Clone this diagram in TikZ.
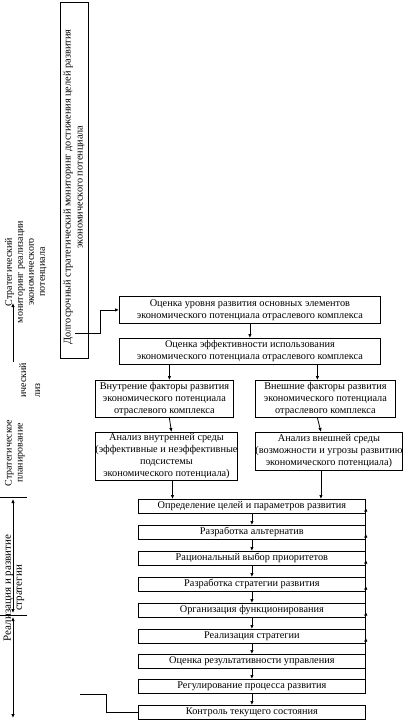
\documentclass[tikz,border=0pt]{standalone}
\usepackage{fontspec}
\setmainfont{Liberation Serif}
\usetikzlibrary{arrows.meta,calc}
\begin{document}
\begin{tikzpicture}[x=1pt,y=-1pt,
  font=\fontsize{10.3}{12}\selectfont,
  box/.style={draw, line width=0.8pt, inner sep=0pt, align=center, anchor=north west},
  arr/.style={-{Latex[length=4pt,width=3.5pt]}, line width=0.8pt},
  darr/.style={{Latex[length=4pt,width=3.5pt]}-{Latex[length=4pt,width=3.5pt]}, line width=0.8pt},
  ln/.style={line width=0.8pt},
  side/.style={rotate=90, align=center, inner sep=0pt, font=\fontsize{10}{11}\selectfont}]
\useasboundingbox (0,0) rectangle (411,720);
% long-term monitoring box
\node[box, minimum width=28, minimum height=356] (mon) at (60,2) {};
\node[rotate=90, align=center, inner sep=0pt] (montext) at (74,187)
  {Долгосрочный стратегический мониторинг достижения целей развития\\экономического потенциала};
\coordinate (monout) at (75,333);
% upper boxes
\node[box, minimum width=261, minimum height=27] (b1) at (119,296)
  {Оценка уровня развития основных элементов\\экономического потенциала отраслевого комплекса};
\node[box, minimum width=261, minimum height=26] (b2) at (119,338)
  {Оценка эффективности использования\\экономического потенциала отраслевого комплекса};
\node[box, minimum width=138, minimum height=37] (b3l) at (95,380)
  {Внутрение факторы развития\\экономического потенциала\\отраслевого комплекса};
\node[box, minimum width=140, minimum height=37] (b3r) at (255,380)
  {Внешние факторы развития\\экономического потенциала\\отраслевого комплекса};
\node[box, minimum width=138, minimum height=48] (b4l) at (95,432)
  {Анализ внутренней среды\\(эффективные и неэффективные\\подсистемы\\экономического потенциала)};
\node[box, minimum width=140, minimum height=38] (b4r) at (255,432)
  {Анализ внешней среды\\(возможности и угрозы развитию\\экономического потенциала)};
% chain
\foreach \n/\y/\t in {c1/499/Определение целей и параметров развития,
  c2/525/Разработка альтернатив,
  c3/551/Рациональный выбор приоритетов,
  c4/577/Разработка стратегии развития,
  c5/603/Организация функционирования,
  c6/629/Реализация стратегии,
  c7/654/Оценка результативности управления,
  c8/679/Регулирование процесса развития,
  c9/705/Контроль текущего состояния}
  \node[box, minimum width=227, minimum height=13.5] (\n) at (138,\y) {\t};
% connectors
\draw[arr] (monout) -- ++(25,0) |- (b1.west);
\draw[arr] (b1.south -| b2.north) -- (b2.north);
\draw[arr] ($(b2.south -| b3l.north)+(5,0)$) -- ($(b3l.north)+(5,0)$);
\draw[arr] ($(b2.south -| b3r.north)+(-8,0)$) -- ($(b3r.north)+(-8,0)$);
\draw[arr] ($(b3l.south)+(5,0)$) -- ($(b4l.north)+(5,0)$);
\draw[arr] ($(b3r.south)+(-8,0)$) -- ($(b4r.north)+(-8,0)$);
\draw[arr] ($(b4l.south)+(6,0)$) -- ($(b4l.south |- c1.north)+(6,0)$);
\draw[arr] ($(b4r.south)+(-8,0)$) -- ($(b4r.south |- c1.north)+(-8,0)$);
\foreach \a/\b in {c1/c2,c2/c3,c3/c4,c4/c5,c5/c6,c6/c7,c7/c8,c8/c9}
  \draw[arr] (\a) -- (\b);
% feedback line on the right
\draw[ln] (c8.south east) -- (c1.north east);
\foreach \n in {c1,c2,c3,c4,c5,c6}
  \draw[arr] ($(\n.south east)+(0,1)$) -- ($(\n.east)+(0,1.5)$);
% control input
\coordinate (ctrlin) at (80,694);
\draw[ln] (ctrlin) -- ++(26,0) |- (c9.west);
% left side labels
\node[side] (s1) at (26,272) {Стратегический\\мониторинг реализации\\экономического\\потенциала};
\node[side, anchor=base west] (s2a) at (26,398) {ический};
\node[side, anchor=base west] (s2b) at (40,398) {лиз};
\node[side] (s3) at (15,453) {Стратегическое\\планирование};
\node[side, font=\fontsize{11}{11}\selectfont] (s4) at (14,588) {Реализация и развитие\\стратегии};
% left axis
\coordinate (ax1) at (13,303);
\coordinate (ax2) at (13,362);
\coordinate (t1l) at (0,497);
\coordinate (t1r) at (27,497);
\coordinate (t2l) at (0,615);
\coordinate (t2r) at (27,615);
\coordinate (ax3) at (13,499);
\coordinate (ax4) at (13,613);
\coordinate (ax5) at (13,617);
\coordinate (ax6) at (13,718);
\draw[arr] (ax2) -- (ax1);
\draw[ln] (t1l) -- (t1r);
\draw[ln] (t2l) -- (t2r);
\draw[darr] (ax3) -- (ax4);
\draw[darr] (ax5) -- (ax6);
\end{tikzpicture}
\end{document}
